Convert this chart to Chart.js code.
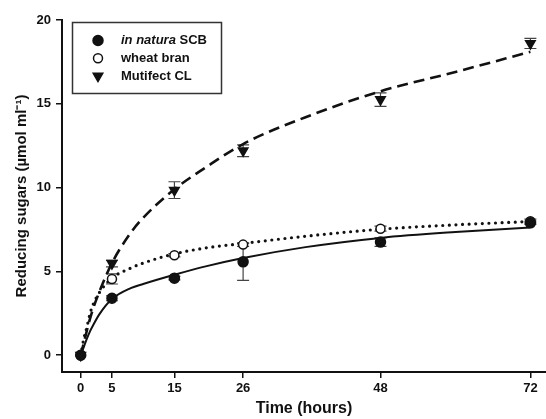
<!DOCTYPE html>
<html>
<head>
<meta charset="utf-8">
<script src="https://cdn.jsdelivr.net/npm/chart.js@4/dist/chart.umd.min.js"></script>
<style>
  html, body { margin: 0; padding: 0; background: #fff; overflow: hidden; }
  #chart { display: block; }
</style>
</head>
<body>
<canvas id="chart" width="546" height="419"></canvas>
<script>
// measured points (mean and error) at each sampling time
const hours = [0, 5, 15, 26, 48, 72];
const scbMeans = [0, 3.4, 4.6, 5.57, 6.75, 7.9];
const scbErr = [0, 0.15, 0.1, 1.1, 0.25, 0.1];
const branMeans = [0, 4.55, 5.97, 6.6, 7.55, 8.0];
const branErr = [0, 0.3, 0.1, 0.1, 0.15, 0.12];
const mutiMeans = [0, 5.47, 9.85, 12.2, 15.25, 18.6];
const mutiErr = [0, 0.2, 0.5, 0.35, 0.4, 0.3];

// fitted curves
const fitHours = [0, 0.5, 1, 1.5, 2, 3, 5, 8, 10, 15, 20, 26, 36, 48, 60, 72];
const scbFit = [0, 0.5, 1.0, 1.44, 1.8, 2.45, 3.35, 4.0, 4.25, 4.8, 5.3, 5.8, 6.45, 7.0, 7.35, 7.62];
const branFit = [0, 1.0, 1.7, 2.5, 3.05, 3.75, 4.6, 5.2, 5.5, 6.05, 6.4, 6.67, 7.1, 7.52, 7.78, 7.98];
const mutiFit = [0, 0.75, 1.5, 2.2, 2.8, 3.8, 5.5, 7.3, 8.2, 9.9, 11.2, 12.6, 14.2, 15.75, 16.9, 18.1];

const xTicks = [0, 5, 15, 26, 48, 72];
const yTicks = [0, 5, 10, 15, 20];
const seriesNames = ['in natura SCB', 'wheat bran', 'Mutifect CL'];
const italicParts = ['in natura', '', ''];

const FONT = "'Liberation Sans', Arial, sans-serif";
const INK = '#111';

function toPoints(xs, ys) {
    return xs.map((x, i) => ({ x: x, y: ys[i] }));
}

const markerStyles = [
    { pointStyle: 'circle', radius: 5, bg: INK, border: INK, rotation: 0 },
    { pointStyle: 'circle', radius: 4.5, bg: '#fff', border: INK, rotation: 0 },
    { pointStyle: 'triangle', radius: 5.5, bg: INK, border: INK, rotation: 180 }
];
const errors = [scbErr, branErr, mutiErr];

// draw vertical error bars with caps under the markers
const errorBarPlugin = {
    id: 'errorBars',
    beforeDatasetsDraw(chart) {
        const ctx = chart.ctx;
        const y = chart.scales.y;
        ctx.save();
        ctx.strokeStyle = '#444';
        ctx.lineWidth = 1.2;
        chart.data.datasets.forEach((ds, di) => {
            if (ds.errIndex === undefined) return;
            const meta = chart.getDatasetMeta(di);
            const errs = errors[ds.errIndex];
            meta.data.forEach((pt, i) => {
                const e = errs[i];
                if (!e) return;
                const v = ds.data[i].y;
                const top = y.getPixelForValue(v + e);
                const bot = y.getPixelForValue(v - e);
                ctx.beginPath();
                ctx.moveTo(pt.x, top); ctx.lineTo(pt.x, bot);
                ctx.moveTo(pt.x - 6, top); ctx.lineTo(pt.x + 6, top);
                ctx.moveTo(pt.x - 6, bot); ctx.lineTo(pt.x + 6, bot);
                ctx.stroke();
            });
        });
        ctx.restore();
    }
};

// boxed legend with an italic prefix for the first entry
const boxLegendPlugin = {
    id: 'boxLegend',
    afterDraw(chart) {
        const ctx = chart.ctx;
        ctx.save();
        ctx.strokeStyle = '#333';
        ctx.lineWidth = 1.5;
        ctx.strokeRect(72.5, 22.5, 149, 71);
        seriesNames.forEach((name, i) => {
            const rowY = 40.5 + i * 17.8;
            const m = markerStyles[i];
            ctx.fillStyle = m.bg;
            ctx.strokeStyle = m.border;
            ctx.lineWidth = 1.5;
            Chart.helpers.drawPoint(ctx, { pointStyle: m.pointStyle, radius: m.radius, rotation: m.rotation, borderWidth: 1.5 }, 98, rowY);
            ctx.fillStyle = INK;
            ctx.textBaseline = 'middle';
            let x = 121;
            const it = italicParts[i];
            if (it) {
                ctx.font = 'italic bold 13px ' + FONT;
                ctx.fillText(it, x, rowY);
                x += ctx.measureText(it + ' ').width;
            }
            ctx.font = 'bold 13px ' + FONT;
            ctx.fillText(it ? name.slice(it.length).trim() : name, x, rowY);
        });
        ctx.restore();
    }
};

const datasets = [];
const fits = [scbFit, branFit, mutiFit];
const fitStyles = [
    { dash: [], width: 2, cap: 'butt' },
    { dash: [0, 6.6], width: 3.2, cap: 'round' },
    { dash: [11, 6], width: 2.6, cap: 'butt' }
];
fits.forEach((f, i) => {
    datasets.push({
        label: seriesNames[i] + ' fit',
        data: toPoints(fitHours, f),
        showLine: true,
        borderColor: INK,
        borderWidth: fitStyles[i].width,
        borderDash: fitStyles[i].dash,
        borderCapStyle: fitStyles[i].cap,
        cubicInterpolationMode: 'monotone',
        pointRadius: 0,
        fill: false,
        clip: false,
        order: 5
    });
});
[scbMeans, branMeans, mutiMeans].forEach((means, i) => {
    const m = markerStyles[i];
    datasets.push({
        label: seriesNames[i],
        data: toPoints(hours, means),
        showLine: false,
        errIndex: i,
        pointStyle: m.pointStyle,
        pointRadius: m.radius,
        pointRotation: m.rotation,
        pointBackgroundColor: m.bg,
        pointBorderColor: m.border,
        pointBorderWidth: 1.5,
        clip: false,
        order: 1
    });
});

new Chart(document.getElementById('chart'), {
    type: 'scatter',
    data: { datasets: datasets },
    plugins: [errorBarPlugin, boxLegendPlugin],
    options: {
        responsive: false,
        animation: false,
        layout: { autoPadding: false, padding: { top: 20, right: 0, left: 0, bottom: 0 } },
        plugins: { legend: { display: false }, tooltip: { enabled: false } },
        scales: {
            x: {
                type: 'linear',
                min: -3,
                max: 74.5,
                afterBuildTicks: s => { s.ticks = xTicks.map(v => ({ value: v })); },
                afterFit: s => { s.height = 47; s.paddingRight = 0; s.paddingLeft = 0; },
                border: { display: true, color: INK, width: 2 },
                grid: { drawOnChartArea: false, drawTicks: true, tickLength: 6, color: INK, lineWidth: 1.5 },
                ticks: { color: INK, padding: 3, font: { family: FONT, size: 13, weight: 'bold' }, maxRotation: 0 },
                title: { display: true, text: 'Time (hours)', color: INK, padding: { top: 0, bottom: 1 }, font: { family: FONT, size: 16, weight: 'bold' } }
            },
            y: {
                min: -1,
                max: 20,
                afterBuildTicks: s => { s.ticks = yTicks.map(v => ({ value: v })); },
                afterFit: s => { s.width = 62; s.paddingTop = 0; s.paddingBottom = 0; },
                border: { display: true, color: INK, width: 2 },
                grid: { drawOnChartArea: false, drawTicks: true, tickLength: 6, color: INK, lineWidth: 1.5 },
                ticks: { color: INK, padding: 5, font: { family: FONT, size: 13, weight: 'bold' } },
                title: { display: true, text: 'Reducing sugars (µmol ml⁻¹)', color: INK, padding: { top: 13, bottom: 0 }, font: { family: FONT, size: 15, weight: 'bold' } }
            }
        }
    }
});
</script>
</body>
</html>
